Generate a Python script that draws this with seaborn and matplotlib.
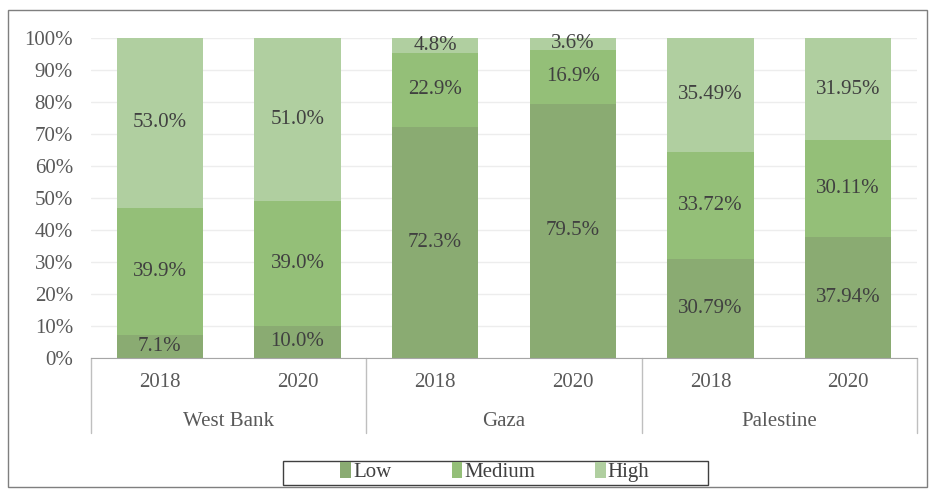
import matplotlib
matplotlib.use("Agg")
import matplotlib.pyplot as plt
import matplotlib.transforms as mtransforms
from matplotlib.patches import Patch, Rectangle
import seaborn as sns
import pandas as pd

regions = ["West Bank", "Gaza", "Palestine"]
years = ["2018", "2020"]
low = [7.1, 10.0, 72.3, 79.5, 30.79, 37.94]
medium = [39.9, 39.0, 22.9, 16.9, 33.72, 30.11]
high = [53.0, 51.0, 4.8, 3.6, 35.49, 31.95]
low_lbl = ["7.1%", "10.0%", "72.3%", "79.5%", "30.79%", "37.94%"]
medium_lbl = ["39.9%", "39.0%", "22.9%", "16.9%", "33.72%", "30.11%"]
high_lbl = ["53.0%", "51.0%", "4.8%", "3.6%", "35.49%", "31.95%"]

colors = {"Low": "#8aab72", "Medium": "#94bf78", "High": "#b0cfa0"}

sns.set_style("white")
plt.rcParams['font.family'] = ['Liberation Serif', 'DejaVu Serif']
fs = 15

cats = [f"{r} {y}" for r in regions for y in years]
df = pd.DataFrame({"cat": cats, "low": low, "medium": medium, "high": high})
df["top_low"] = df["low"]
df["top_med"] = df["low"] + df["medium"]
df["top_high"] = df["top_med"] + df["high"]

fig = plt.figure(figsize=(9.35, 4.95), dpi=100)
ax = fig.add_axes([91 / 935, 1 - 358 / 495, 826 / 935, 320 / 495])

# stack by overdrawing the cumulative totals
for col, name in [("top_high", "High"), ("top_med", "Medium"), ("top_low", "Low")]:
    sns.barplot(data=df, x="cat", y=col, order=cats, color=colors[name],
                saturation=1, width=0.625, errorbar=None, ax=ax, zorder=2,
                linewidth=0, edgecolor="none")

txt = "#404040"
for i in range(len(cats)):
    b = 0
    for v, s in [(low[i], low_lbl[i]), (medium[i], medium_lbl[i]), (high[i], high_lbl[i])]:
        ax.text(i, b + v / 2, s, ha="center", va="center", fontsize=fs, color=txt, zorder=3)
        b += v

ax.set_xlim(-0.5, len(cats) - 0.5)
ax.set_ylim(0, 100)
ax.set_yticks(range(0, 101, 10))
ax.set_yticklabels([f"{t}%" for t in range(0, 101, 10)], fontsize=fs, color="#595959")
ax.tick_params(axis="y", length=0, pad=13)
ax.set_xticks([])
ax.set_xlabel("")
ax.set_ylabel("")
ax.yaxis.grid(True, color="#ededed", linewidth=1, zorder=0)
ax.set_axisbelow(True)
for s in ["left", "top", "right"]:
    ax.spines[s].set_visible(False)
ax.spines["bottom"].set_color("#a6a6a6")

# two-level category axis
trans = mtransforms.blended_transform_factory(ax.transData, ax.transAxes)
for i, c in enumerate(cats):
    ax.text(i, -0.078, years[i % 2], transform=trans, ha="center", va="center",
            fontsize=fs, color="#595959")
for g, r in enumerate(regions):
    ax.text(2 * g + 0.5, -0.197, r, transform=trans, ha="center", va="center",
            fontsize=fs, color="#595959")
for xs in [-0.5, 1.5, 3.5, 5.5]:
    ax.plot([xs, xs], [0, -0.234], transform=trans, color="#bfbfbf",
            linewidth=1, clip_on=False)

handles = [Patch(facecolor=colors[n], edgecolor="none", label=n) for n in ["Low", "Medium", "High"]]
leg = fig.legend(handles=handles, loc="center", bbox_to_anchor=(495 / 935, 1 - 472 / 495),
                 ncol=3, frameon=False, fontsize=fs, handlelength=0.5,
                 handleheight=0.8, handletextpad=0.1, columnspacing=2.9,
                 borderpad=0.1, borderaxespad=0)
for t in leg.get_texts():
    t.set_color(txt)

fig.patches.append(Rectangle((283 / 935, 1 - 485 / 495), 425 / 935, 24 / 495,
                             transform=fig.transFigure, fill=False,
                             edgecolor="#404040", linewidth=1))
fig.patches.append(Rectangle((8 / 935, 1 - 487 / 495), 919 / 935, 477 / 495,
                             transform=fig.transFigure, fill=False,
                             edgecolor="#7f7f7f", linewidth=1))

fig.savefig("out.png", dpi=100)
